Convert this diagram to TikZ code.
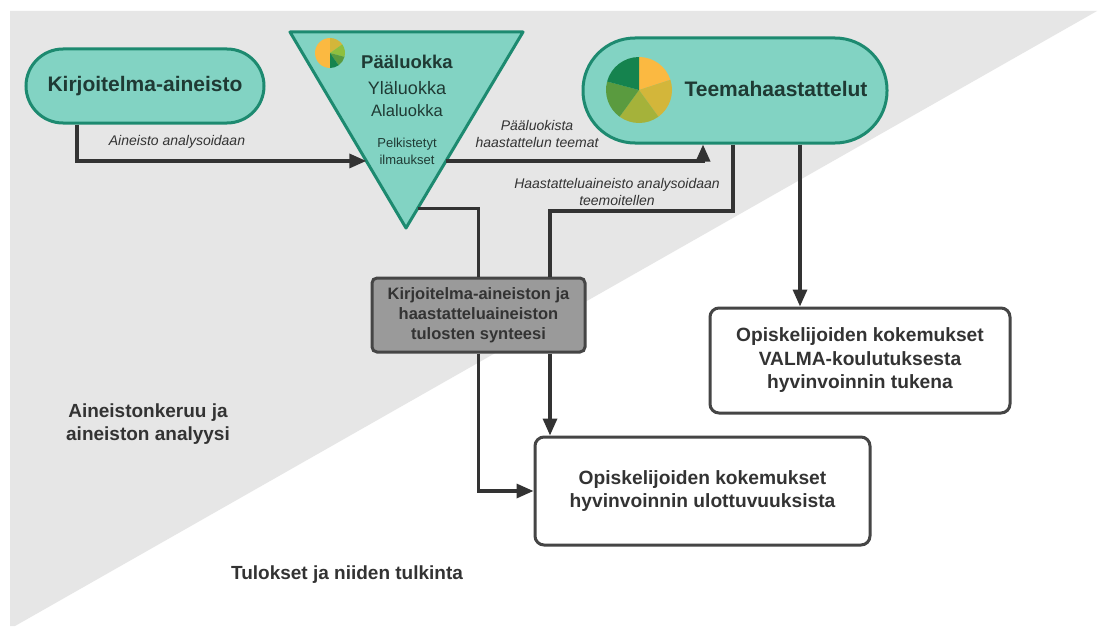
\documentclass[tikz,border=0pt]{standalone}
\usepackage{fontspec}
\setmainfont{Liberation Sans}
\usetikzlibrary{arrows.meta,positioning,calc}

\definecolor{bgGray}{HTML}{E6E6E6}
\definecolor{tealFill}{HTML}{82D3C3}
\definecolor{tealLine}{HTML}{1D8A70}
\definecolor{tealInk}{HTML}{1F3A34}
\definecolor{ink}{HTML}{333333}
\definecolor{boxLine}{HTML}{454545}
\definecolor{synthFill}{HTML}{9A9A9A}
\definecolor{pieOrange}{HTML}{FBB941}
\definecolor{pieMustard}{HTML}{D3B63A}
\definecolor{pieOlive}{HTML}{A5B23A}
\definecolor{pieLight}{HTML}{8EBF3F}
\definecolor{pieMid}{HTML}{5A9B3F}
\definecolor{pieDark}{HTML}{15834E}

\begin{document}
\begin{tikzpicture}[x=1pt, y=1pt, >={Triangle[length=17pt,width=14pt]}]
\tikzset{pill/.style={draw=tealLine, fill=tealFill, line width=3pt, text=tealInk,
  font=\bfseries\fontsize{21}{25}\selectfont}}
\tikzset{res/.style={draw=boxLine, fill=white, line width=3pt, rounded corners=9pt,
  align=center, text=ink, font=\bfseries\fontsize{19.2}{23.5}\selectfont}}
\tikzset{lab/.style={align=center, text=ink, font=\itshape\fontsize{14}{16.5}\selectfont}}
\tikzset{zone/.style={align=center, text=ink, font=\bfseries\fontsize{19}{23}\selectfont}}
\tikzset{link/.style={draw=ink, line width=3.3pt}}

\useasboundingbox (0,0) rectangle (1099,-626);
\fill[white] (0,0) rectangle (1099,-626);

% Background split
\fill[bgGray] (10,-11) -- (1097,-11) -- (15,-626) -- (10,-626) -- cycle;

% Essay data
\node[pill, minimum width=238pt, minimum height=74pt, rounded corners=37pt]
 (kirj) at (145,-86) {Kirjoitelma-aineisto};

% Category triangle
\coordinate (tl) at (290,-32);
\coordinate (tr) at (523,-32);
\coordinate (tb) at (406,-228);
\draw[draw=tealLine, fill=tealFill, line width=3pt, line join=round] (tl) -- (tr) -- (tb) -- cycle;
\coordinate (triIn) at ($(tl)!0.658!(tb)$);
\coordinate (triOut) at ($(tr)!0.658!(tb)$);
\coordinate (triLow) at ($(tr)!0.9!(tb)$);

\coordinate (pieS) at (330,-53);
\foreach \a/\b/\c in {90/270/pieOrange, 90/35/pieMustard, 35/-15/pieLight,
  -15/-55/pieMid, -55/-90/pieDark}
  \fill[\c] (pieS) -- ++(\a:15) arc[start angle=\a, end angle=\b, radius=15] -- cycle;

\node[text=tealInk, font=\bfseries\fontsize{18.5}{20}\selectfont] (paa) at (407,-62) {Pääluokka};
\node[text=tealInk, font=\fontsize{18}{20}\selectfont] (yla) at (407,-88) {Yläluokka};
\node[text=tealInk, font=\fontsize{16.5}{18}\selectfont] (ala) at (407,-111) {Alaluokka};
\node[text=tealInk, align=center, font=\fontsize{13}{17}\selectfont] (pelk) at (407,-151)
{Pelkistetyt\\ilmaukset};

% Theme interviews
\node[pill, minimum width=304pt, minimum height=105pt, rounded corners=52pt]
 (teema) at (735,-90.5) {};
\coordinate (pieT) at (639,-90);
\foreach \a/\b/\c in {90/18/pieOrange, 18/-54/pieMustard, -54/-126/pieOlive,
  -126/-195/pieMid, -195/-270/pieDark}
  \fill[\c] (pieT) -- ++(\a:33) arc[start angle=\a, end angle=\b, radius=33] -- cycle;
\node[text=tealInk, font=\bfseries\fontsize{21}{25}\selectfont] (teemaTxt) at (776,-89)
{Teemahaastattelut};

% Synthesis and results
\node[res, fill=synthFill, minimum width=213pt, minimum height=74pt, rounded corners=5pt,
 font=\bfseries\fontsize{16.5}{20}\selectfont] (synth) at (478.5,-315)
{Kirjoitelma-aineiston ja\\haastatteluaineiston\\tulosten synteesi};

\node[res, minimum width=300pt, minimum height=105pt] (valma) at (860,-360.5)
{Opiskelijoiden kokemukset\\VALMA-koulutuksesta\\hyvinvoinnin tukena};

\node[res, minimum width=335pt, minimum height=108pt] (result) at (702.5,-491)
{Opiskelijoiden kokemukset\\hyvinvoinnin ulottuvuuksista};

% Labels
\node[lab] (labA) at (177,-142) {Aineisto analysoidaan};
\node[lab] (labB) at (537,-134) {Pääluokista\\haastattelun teemat};
\node[lab] (labC) at (617,-192) {Haastatteluaineisto analysoidaan\\teemoitellen};

\node[zone] (zoneA) at (148,-424) {Aineistonkeruu ja\\aineiston analyysi};
\node[zone] (zoneB) at (347,-575) {Tulokset ja niiden tulkinta};

% Connections
\coordinate (teemaAn) at ([xshift=-2pt]teema.south);
\coordinate (teemaOut) at ([xshift=65pt]teema.south);
\coordinate (bendT) at (550,-211);

\draw[link, ->] ([xshift=-68pt]kirj.south) |- (triIn);
\draw[link, ->] (triOut) -| ([xshift=-32pt]teema.south);
\draw[link] (teemaAn) |- (bendT) -- (bendT |- synth.north);
\draw[link] (triLow) -| (synth.north);
\draw[link, ->] (synth.south) |- (result.west);
\draw[link, ->] (bendT |- synth.south) -- (bendT |- result.north);
\draw[link, ->] (teemaOut) -- (teemaOut |- valma.north);

\end{tikzpicture}
\end{document}
